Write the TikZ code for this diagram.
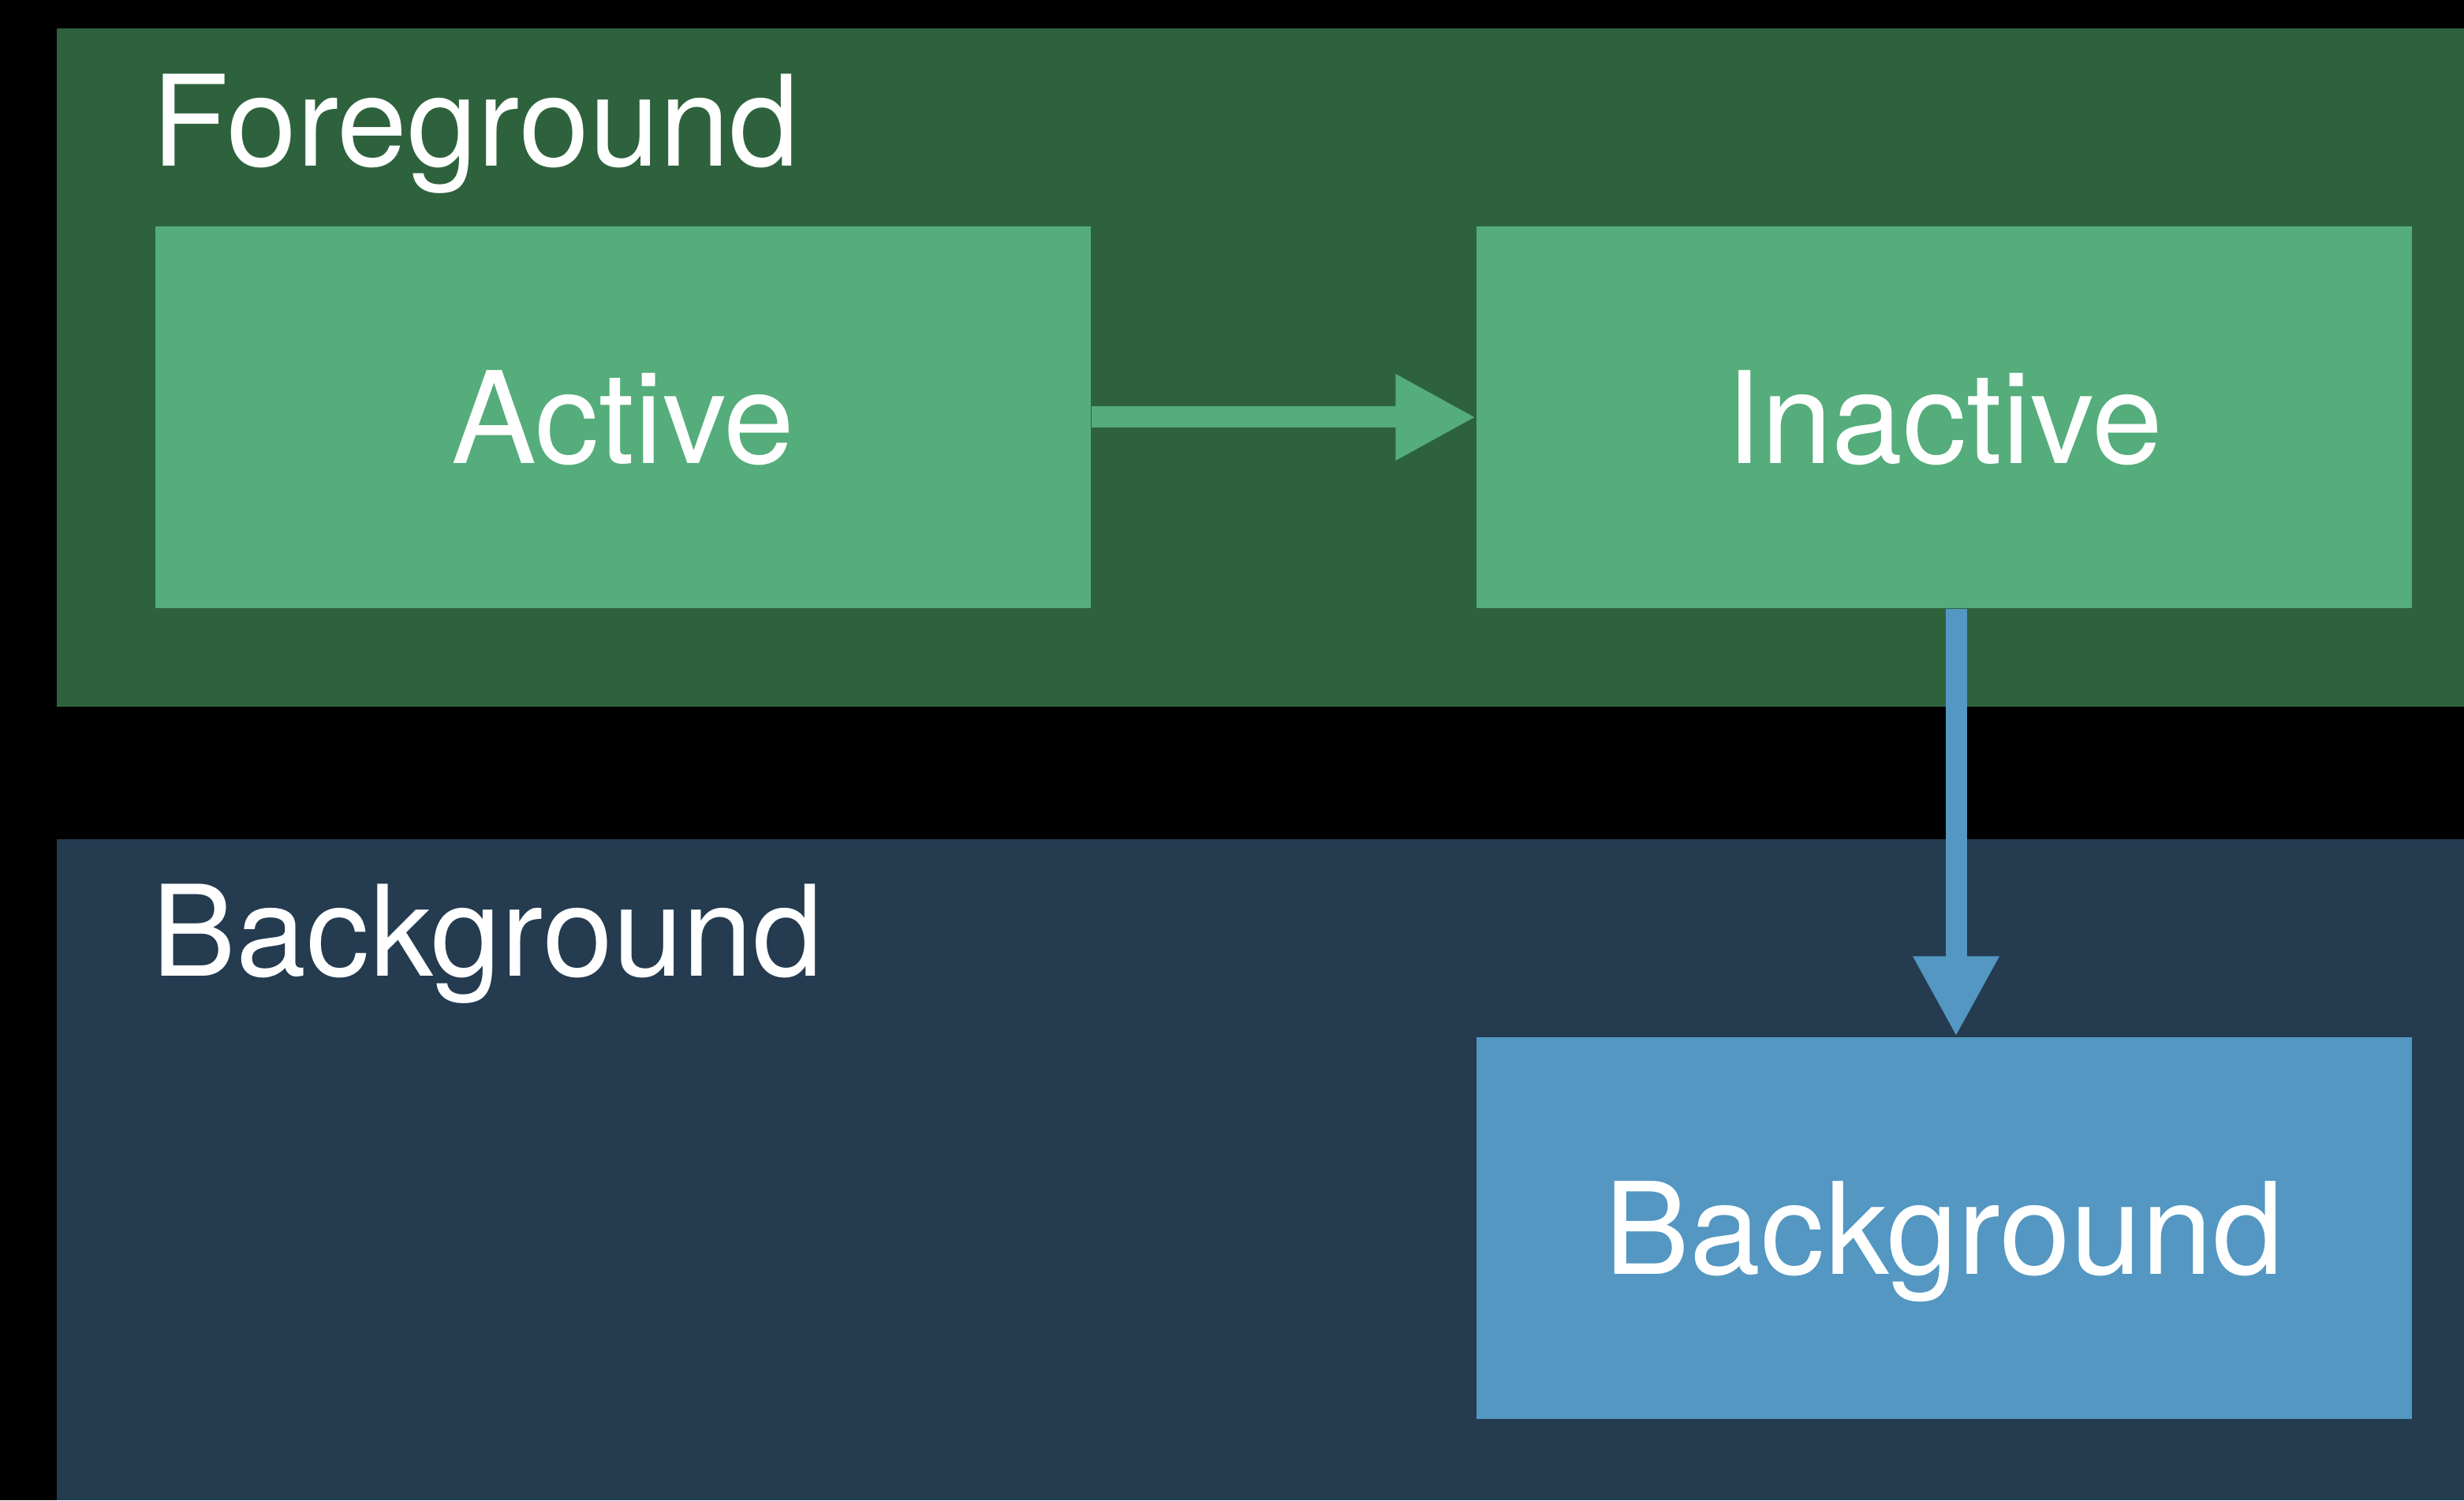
\documentclass[tikz,border=0pt]{standalone}
\usepackage{fontspec}
\setmainfont{TeX Gyre Heros}
\usetikzlibrary{arrows.meta}
\definecolor{fgdark}{RGB}{46,98,61}
\definecolor{fglight}{RGB}{84,173,122}
\definecolor{bgdark}{RGB}{36,59,80}
\definecolor{bglight}{RGB}{83,151,194}
\tikzset{
	state/.style={minimum width=11.86cm, minimum height=4.84cm, inner sep=0pt, text depth=0pt, text=white, font=\fontsize{46}{55}\selectfont},
	band/.style={anchor=base west, inner sep=0pt, text=white, font=\fontsize{45.5}{54}\selectfont},
	flow/.style={line width=0.27cm, -{Triangle[length=1.02cm, width=1.02cm]}}
}
\begin{document}
\begin{tikzpicture}
		\fill[black] (0,0) rectangle (31.24,19.02);
		\useasboundingbox (0,0) rectangle (31.24,19.02);
		% the two bands
		\fill[fgdark] (0.72,10.06) rectangle (31.24,18.66);
		\fill[bgdark] (0.72,0) rectangle (31.24,8.38);
		\node (fg) [band] at (1.92,16.91) {Foreground};
		\node (bg) [band] at (1.92,6.64) {Background};

		\node (active) [state, fill=fglight] at (7.90,13.73) {Active};
		\node (inactive) [state, fill=fglight] at (24.65,13.73) {Inactive};
		\node (background) [state, fill=bglight] at (24.65,3.45) {Background};
		\draw [flow, fglight] (active.east)--(inactive.west);
		\draw [flow, bglight] ([xshift=0.15cm]inactive.south)--([xshift=0.15cm]background.north);
	\end{tikzpicture}
\end{document}
